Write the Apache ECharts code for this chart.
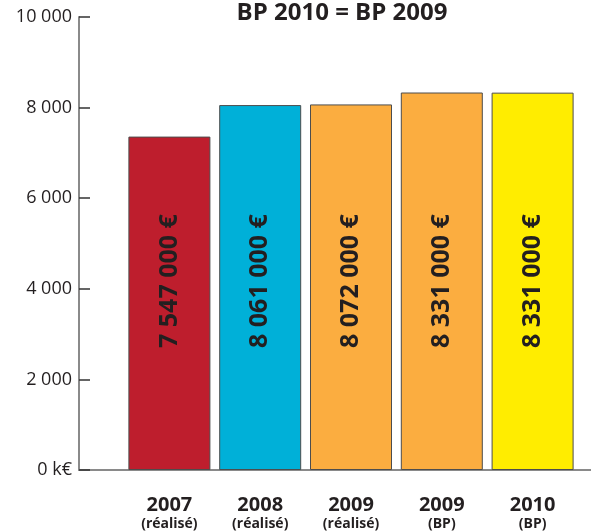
<!DOCTYPE html>
<html lang="fr">
<head>
    <meta charset="UTF-8">
    <title>BP 2010 = BP 2009</title>
    <script src="https://cdn.jsdelivr.net/npm/echarts@6/dist/echarts.min.js"></script>
    <style>
        *{ margin: 0px; }
        #main{ width: 591px; height: 532px; }
    </style>
</head>
<body>
<div id="main"></div>
<script>
    // données (k€)
    var categories = ['2007 (réalisé)', '2008 (réalisé)', '2009 (réalisé)', '2009 (BP)', '2010 (BP)'];
    var values = [7360, 8056, 8070, 8333, 8330];
    var barLabels = ['7 547 000 €', '8 061 000 €', '8 072 000 €', '8 331 000 €', '8 331 000 €'];
    var barColors = ['#BE1E2D', '#00B0D8', '#FBAD40', '#FBAD40', '#FFED00'];
    var yTickLabels = ['0 k€', '2 000', '4 000', '6 000', '8 000', '10 000'];

    var font = '"Open Sans", sans-serif';
    var myChart = echarts.init(document.getElementById('main'));

    var option = {
        animation: false,
        title: {
            text: 'BP 2010 = BP 2009',
            left: 337, top: -4, textAlign: 'center',
            textStyle: { fontFamily: font, fontSize: 24, fontWeight: 'bold', color: '#231F20' }
        },
        grid: [
            { left: 124, right: 13, top: 17, bottom: 62 },
            // seulement pour la ligne de l'axe x qui va jusqu'au bord
            { left: 79, right: 0, top: 17, bottom: 62 }
        ],
        xAxis: [{
            type: 'category',
            gridIndex: 0,
            data: categories,
            axisLine: { show: false },
            axisTick: { show: false },
            axisLabel: {
                margin: 25,
                interval: 0,
                formatter: function (v) {
                    var p = v.split(' ');
                    return '{a|' + p[0] + '}\n{b|' + p[1] + '}';
                },
                rich: {
                    a: { fontFamily: font, fontSize: 20, fontWeight: 'bold', color: '#231F20', lineHeight: 21 },
                    b: { fontFamily: font, fontSize: 14, fontWeight: 'bold', color: '#231F20', lineHeight: 16 }
                }
            }
        }, {
            type: 'value',
            gridIndex: 1,
            axisLine: { show: true, lineStyle: { color: '#8a8a8a', width: 2 } },
            axisTick: { show: false },
            axisLabel: { show: false },
            splitLine: { show: false }
        }],
        yAxis: [{
            type: 'value',
            gridIndex: 0,
            min: 0, max: 10000, interval: 2000,
            offset: 45,
            axisLine: { show: true, lineStyle: { color: '#8a8a8a', width: 2 } },
            axisTick: { show: true, inside: true, length: 11, lineStyle: { color: '#333', width: 1.5 } },
            splitLine: { show: false },
            axisLabel: {
                margin: 7,
                fontFamily: font, fontSize: 18, color: '#231F20',
                formatter: function (v) { return yTickLabels[Math.round(v / 2000)]; }
            }
        }, {
            type: 'value',
            gridIndex: 1,
            show: false
        }],
        series: [{
            type: 'bar',
            xAxisIndex: 0,
            yAxisIndex: 0,
            barWidth: 82,
            data: values.map(function (v, i) {
                return { value: v, itemStyle: { color: barColors[i] } };
            }),
            itemStyle: { borderColor: '#4d4d4d', borderWidth: 1 },
            label: {
                show: true,
                position: 'insideBottom',
                distance: 122,
                rotate: 90,
                align: 'left',
                verticalAlign: 'middle',
                fontFamily: font, fontSize: 25, fontWeight: 'bold', color: '#231F20',
                formatter: function (p) { return barLabels[p.dataIndex]; }
            }
        }]
    };
    myChart.setOption(option);
</script>
</body>
</html>
